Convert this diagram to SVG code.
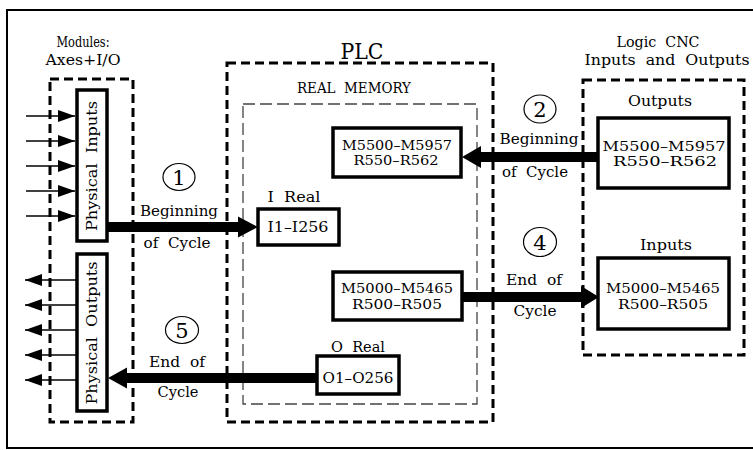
<svg xmlns="http://www.w3.org/2000/svg" width="753" height="450" viewBox="0 0 753 450">
<style>
text{font-family:"DejaVu Serif","Liberation Serif",serif;fill:#000;text-anchor:middle;font-size:14px;white-space:pre}
.big{font-size:23px}
.num{font-size:21px}
.two{font-size:12.5px}
.dash{fill:none;stroke:#000;stroke-width:3;stroke-dasharray:9 5}
.thin{fill:none;stroke:#444;stroke-width:1.3;stroke-dasharray:12 5}
.box{fill:#fff;stroke:#000;stroke-width:3.5}
.sig{stroke:#000;stroke-width:1.3}
.shaft{stroke:#000;stroke-width:10}
.circ{fill:none;stroke:#000;stroke-width:1.2}
</style>
<defs>
<marker id="ah" markerWidth="18" markerHeight="12" refX="17" refY="6" orient="auto" markerUnits="userSpaceOnUse">
<path d="M0,0 L17,6 L0,12 Z" fill="#000"/>
</marker>
</defs>
<rect x="0" y="0" width="753" height="450" fill="#fff"/>
<rect x="7" y="10" width="770" height="438" fill="none" stroke="#000" stroke-width="2"/>

<g id="modules">
<text x="83" y="47" textLength="53" lengthAdjust="spacingAndGlyphs" font-size="14">Modules:</text>
<text x="83" y="65" textLength="75" lengthAdjust="spacingAndGlyphs" font-size="14">Axes+I/O</text>
<rect class="dash" x="50" y="79" width="83" height="343"/>
</g>
<g id="physical-inputs">
<rect class="box" x="77" y="90" width="30" height="151"/>
<text transform="translate(97,166) rotate(-90)" textLength="130" lengthAdjust="spacingAndGlyphs" font-size="15" xml:space="preserve">Physical  Inputs</text>
</g>
<g id="physical-outputs">
<rect class="box" x="77" y="254" width="30" height="157"/>
<text transform="translate(97,333) rotate(-90)" textLength="143" lengthAdjust="spacingAndGlyphs" font-size="15" xml:space="preserve">Physical  Outputs</text>
</g>

<g id="plc">
<text class="big" x="362" y="59" textLength="43" lengthAdjust="spacingAndGlyphs">PLC</text>
<rect class="dash" x="227" y="63" width="266" height="359"/>
</g>
<g id="real-memory">
<text x="354" y="93" textLength="114" lengthAdjust="spacingAndGlyphs" xml:space="preserve">REAL  MEMORY</text>
<rect class="thin" x="243" y="104" width="234" height="300"/>
</g>
<g id="plc-outputs">
<rect class="box" x="333" y="128" width="128" height="49"/>
<text class="two" x="397" y="150" textLength="110" lengthAdjust="spacingAndGlyphs">M5500–M5957</text>
<text class="two" x="396" y="165" textLength="85" lengthAdjust="spacingAndGlyphs">R550–R562</text>
</g>
<g id="i-real">
<text x="294" y="202" textLength="53" lengthAdjust="spacingAndGlyphs" xml:space="preserve">I  Real</text>
<rect class="box" x="258" y="209" width="81" height="36"/>
<text x="298" y="232" textLength="61" lengthAdjust="spacingAndGlyphs">I1–I256</text>
</g>
<g id="plc-inputs">
<rect class="box" x="333" y="272" width="129" height="48"/>
<text class="two" x="397" y="293" textLength="112" lengthAdjust="spacingAndGlyphs">M5000–M5465</text>
<text class="two" x="397" y="309" textLength="90" lengthAdjust="spacingAndGlyphs">R500–R505</text>
</g>
<g id="o-real">
<text x="358" y="352" textLength="54" lengthAdjust="spacingAndGlyphs" xml:space="preserve">O  Real</text>
<rect class="box" x="317" y="356" width="82" height="38"/>
<text x="358" y="383" textLength="71" lengthAdjust="spacingAndGlyphs" font-size="16">O1–O256</text>
</g>

<g id="logic-cnc">
<text x="658" y="47" textLength="83" lengthAdjust="spacingAndGlyphs" xml:space="preserve">Logic  CNC</text>
<text x="667" y="65" textLength="165" lengthAdjust="spacingAndGlyphs" xml:space="preserve">Inputs  and  Outputs</text>
<rect class="dash" x="583" y="80" width="161" height="275"/>
</g>
<g id="cnc-outputs">
<text x="660" y="106" textLength="64" lengthAdjust="spacingAndGlyphs">Outputs</text>
<rect class="box" x="598" y="118" width="131" height="70"/>
<text class="two" x="664" y="151" textLength="123" lengthAdjust="spacingAndGlyphs">M5500–M5957</text>
<text class="two" x="665" y="166" textLength="104" lengthAdjust="spacingAndGlyphs">R550–R562</text>
</g>
<g id="cnc-inputs">
<text x="666" y="250" textLength="52" lengthAdjust="spacingAndGlyphs">Inputs</text>
<rect class="box" x="598" y="258" width="131" height="71"/>
<text class="two" x="663" y="293" textLength="114" lengthAdjust="spacingAndGlyphs">M5000–M5465</text>
<text class="two" x="663" y="309" textLength="90" lengthAdjust="spacingAndGlyphs">R500–R505</text>
</g>

<g id="connectors">
<line class="sig" x1="26" y1="116" x2="75" y2="116" marker-end="url(#ah)"/>
<line class="sig" x1="26" y1="141" x2="75" y2="141" marker-end="url(#ah)"/>
<line class="sig" x1="26" y1="166" x2="75" y2="166" marker-end="url(#ah)"/>
<line class="sig" x1="26" y1="191" x2="75" y2="191" marker-end="url(#ah)"/>
<line class="sig" x1="26" y1="216" x2="75" y2="216" marker-end="url(#ah)"/>
<line class="sig" x1="77" y1="280" x2="25" y2="280" marker-end="url(#ah)"/>
<line class="sig" x1="77" y1="305" x2="25" y2="305" marker-end="url(#ah)"/>
<line class="sig" x1="77" y1="330" x2="25" y2="330" marker-end="url(#ah)"/>
<line class="sig" x1="77" y1="355" x2="25" y2="355" marker-end="url(#ah)"/>
<line class="sig" x1="77" y1="380" x2="25" y2="380" marker-end="url(#ah)"/>

<line class="shaft" x1="107" y1="227" x2="240" y2="227"/>
<polygon points="238,216.5 258,227 238,237.5"/>
<line class="shaft" x1="598" y1="157" x2="478" y2="157"/>
<polygon points="481,146 462,157 481,168"/>
<line class="shaft" x1="462" y1="297" x2="584" y2="297"/>
<polygon points="581,286 599,297 581,308"/>
<line class="shaft" x1="317" y1="378" x2="125" y2="378"/>
<polygon points="127,367.5 108,378 127,388.5"/>

<ellipse class="circ" cx="179" cy="177" rx="16" ry="13.5"/>
<text class="num" x="179" y="185">1</text>
<text x="179" y="216" textLength="78" lengthAdjust="spacingAndGlyphs">Beginning</text>
<text x="177" y="248" textLength="67" lengthAdjust="spacingAndGlyphs" xml:space="preserve">of  Cycle</text>

<ellipse class="circ" cx="540" cy="109" rx="16" ry="14"/>
<text class="num" x="540" y="117">2</text>
<text x="539" y="144" textLength="79" lengthAdjust="spacingAndGlyphs">Beginning</text>
<text x="535" y="177" textLength="66" lengthAdjust="spacingAndGlyphs" xml:space="preserve">of  Cycle</text>

<ellipse class="circ" cx="540" cy="242" rx="16.5" ry="14.5"/>
<text class="num" x="540" y="250">4</text>
<text x="534" y="285" textLength="56" lengthAdjust="spacingAndGlyphs" xml:space="preserve">End  of</text>
<text x="535" y="316" textLength="43" lengthAdjust="spacingAndGlyphs">Cycle</text>

<ellipse class="circ" cx="182" cy="330" rx="16.5" ry="13.5"/>
<text class="num" x="182" y="338">5</text>
<text x="177" y="367" textLength="56" lengthAdjust="spacingAndGlyphs" xml:space="preserve">End  of</text>
<text x="178" y="397" textLength="41" lengthAdjust="spacingAndGlyphs">Cycle</text>
</g>
</svg>
